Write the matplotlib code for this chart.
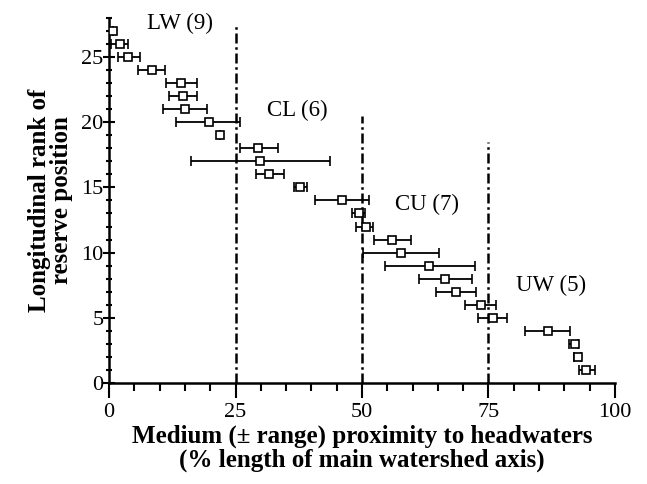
import numpy as np
import matplotlib.pyplot as plt

plt.rcParams['font.family'] = ['Liberation Serif', 'DejaVu Serif']

# longitudinal rank of each reserve, median and range (% of main axis)
rank = [27, 26, 25, 24, 23, 22, 21, 20, 19,
        18, 17, 16, 15, 14, 13,
        12, 11, 10, 9, 8, 7, 6,
        5, 4, 3, 2, 1]
median = [0.8, 2.1, 3.8, 8.5, 14.3, 14.6, 15.1, 19.7, 22.0,
          29.5, 29.9, 31.7, 37.8, 46.0, 49.5,
          50.8, 55.9, 57.7, 63.3, 66.4, 68.6, 73.5,
          75.8, 86.8, 92.1, 92.6, 94.2]
low = [0.8, 0.3, 1.7, 5.8, 11.3, 11.9, 10.6, 13.3, 22.0,
       25.8, 16.3, 29.1, 36.5, 40.7, 48.0,
       48.8, 52.3, 50.1, 54.6, 61.2, 64.6, 70.3,
       72.9, 82.2, 91.0, 91.9, 92.9]
high = [0.8, 3.8, 6.1, 11.0, 17.3, 17.3, 19.4, 25.8, 22.0,
        33.4, 43.6, 34.5, 39.1, 51.4, 50.5,
        52.1, 59.6, 65.3, 72.4, 71.7, 72.6, 76.4,
        78.7, 91.1, 92.7, 93.3, 96.0]

# zone boundaries and labels
bounds = [25, 50, 75]
bound_top = [27.6, 20.5, 18.5]
zones = ['LW (9)', 'CL (6)', 'CU (7)', 'UW (5)']
zone_x = [7.5, 31.3, 56.5, 80.5]
zone_y = [27.6, 20.9, 13.7, 7.5]

median = np.array(median)
xerr = [median - np.array(low), np.array(high) - median]

fig = plt.figure(figsize=(6.47, 4.84), dpi=100)
ax = fig.add_axes([0.1685, 0.2087, 0.782, 0.7543])

for b, t in zip(bounds, bound_top):
    ax.plot([b, b], [0, t], color='black', lw=1.8, dashes=(4, 1.5, 1, 1.5))

ax.errorbar(median, rank, xerr=xerr, fmt='s', mfc='white', mec='black',
            ms=5.5, mew=1.2, ecolor='black', elinewidth=1.3, capsize=3.5,
            capthick=1.3, zorder=3)

for name, x, y in zip(zones, zone_x, zone_y):
    ax.text(x, y, name, fontsize=16.5, va='center', ha='left')

ax.set_xlim(0, 100)
ax.set_ylim(0, 28)
ax.set_xticks([0, 25, 50, 75, 100])
ax.set_xticks(np.arange(0, 101, 5), minor=True)
ax.set_yticks([0, 5, 10, 15, 20, 25])
ax.set_yticks(np.arange(0, 29, 1), minor=True)
ax.tick_params(which='major', direction='out', width=1.5, labelsize=16)
ax.tick_params(which='minor', direction='out', width=1.5)
ax.tick_params(axis='x', which='major', length=11)
ax.tick_params(axis='x', which='minor', length=6)
ax.tick_params(axis='y', which='major', direction='inout', length=8, pad=0)
ax.tick_params(axis='y', which='minor', direction='inout', length=5)
for s in ['top', 'right']:
    ax.spines[s].set_visible(False)
for s in ['left', 'bottom']:
    ax.spines[s].set_linewidth(1.8)

ax.set_xlabel('Medium (\u00b1 range) proximity to headwaters\n(% length of main watershed axis)',
              fontsize=18, fontweight='bold', labelpad=2, linespacing=1.0)
ax.set_ylabel('Longitudinal rank of\nreserve position', fontsize=18,
              fontweight='bold', labelpad=6, linespacing=0.95)

fig.savefig('out.png', dpi=100)
